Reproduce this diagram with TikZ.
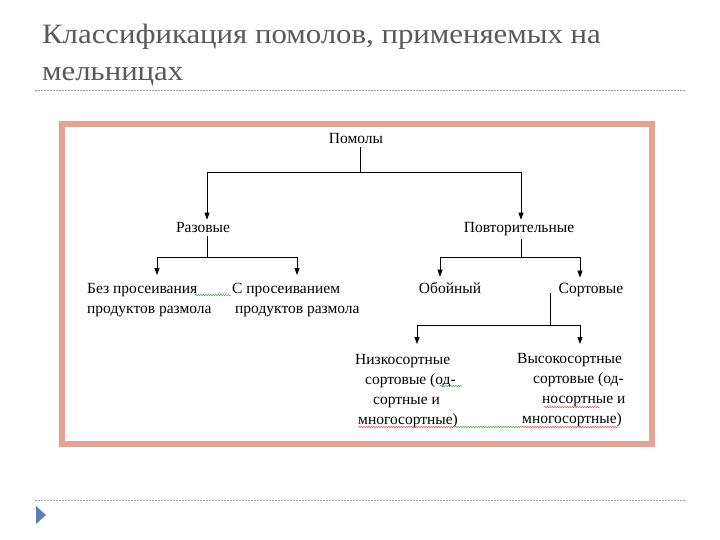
\documentclass[tikz,border=0pt]{standalone}
\usepackage{fontspec}
\setmainfont{Liberation Serif}
\newfontfamily\titlefont[FakeStretch=1.1]{Liberation Serif}
\usetikzlibrary{arrows.meta,decorations.pathmorphing,calc}
\definecolor{titlegray}{HTML}{595959}
\definecolor{framepink}{HTML}{E4A394}
\definecolor{dashgray}{HTML}{A0A0A0}
\definecolor{bulletblue}{HTML}{5B7FB5}
\definecolor{squigred}{HTML}{D9534F}
\definecolor{squiggreen}{HTML}{4CA64C}
\begin{document}
\begin{tikzpicture}[x=1pt,y=-1pt,
  lbl/.style={inner xsep=0pt, inner ysep=3pt, font=\fontsize{15.5}{20}\selectfont},
  blk/.style={lbl, align=left, anchor=north west},
  conn/.style={line width=0.8pt, black},
  arr/.style={conn, -{Triangle[length=7pt,width=5pt]}},
  sepline/.style={dashgray, line width=0.6pt, dash pattern=on 2pt off 1pt},
  wavy/.style={decorate, decoration={snake, amplitude=0.7pt, segment length=2.5pt}, line width=0.5pt},
]
\useasboundingbox (0,0) rectangle (720,540);
\fill[white] (0,0) rectangle (720,540);

% title (base anchor = baseline of the last line)
\node[anchor=base west, inner sep=0pt, text=titlegray, align=left,
      font=\titlefont\fontsize{28}{37}\selectfont] (title) at (42,81)
  {Классификация помолов, применяемых на\\мельницах};

\draw[sepline] (35,90) -- (686,90);
\draw[sepline] (35,500) -- (686,500);
\fill[bulletblue] (36,506) -- (46,515) -- (36,524) -- cycle;

% frame
\draw[framepink, line width=6pt] (62,124) rectangle (652,444);

% nodes
\node[lbl, anchor=base] (pomoly) at (356,144) {Помолы};
\node[lbl, anchor=base] (raz) at (203,233) {Разовые};
\node[lbl, anchor=base] (pov) at (519,233) {Повторительные};
\node[blk] (bez) at (87,280) {Без просеивания\\продуктов размола};
\node[blk] (spros) at (232,280) {С просеиванием\\\hspace*{3pt}продуктов размола};
\node[lbl, anchor=base] (oboi) at (450,293) {Обойный};
\node[lbl, anchor=base] (sort) at (591,293) {Сортовые};
\node[blk] (nizko) at (355,351) {Низкосортные\\\hspace*{10pt}сортовые (од-\\\hspace*{18pt}сортные и\\\hspace*{3pt}многосортные)};
\node[blk] (vysoko) at (517,350) {Высокосортные\\\hspace*{16pt}сортовые (од-\\\hspace*{25pt}носортные и\\\hspace*{5pt}многосортные)};

% connectors
\coordinate (j1) at (360,172);
\coordinate (l1) at (207,172);
\coordinate (r1) at (521,172);
\draw[conn] (pomoly.south -| j1) -- (j1);
\draw[conn] (l1) -- (r1);
\draw[arr] (l1) -- (raz.north -| l1);
\draw[arr] (r1) -- (pov.north -| r1);

\coordinate (j2) at (207,257);
\coordinate (l2) at (157,257);
\coordinate (r2) at (297,257);
\draw[conn] (raz.south -| j2) -- (j2);
\draw[conn] (l2) -- (r2);
\draw[arr, shorten >=5pt] (l2) -- (bez.north -| l2);
\draw[arr, shorten >=5pt] (r2) -- (spros.north -| r2);

\coordinate (j3) at (521,257);
\coordinate (l3) at (440,257);
\coordinate (r3) at (580,257);
\draw[conn] (pov.south -| j3) -- (j3);
\draw[conn] (l3) -- (r3);
\draw[arr, shorten >=2pt] (l3) -- (oboi.north -| l3);
\draw[arr, shorten >=2pt] (r3) -- (sort.north -| r3);

\coordinate (j4) at (550,325);
\coordinate (l4) at (417,325);
\coordinate (r4) at (580,325);
\draw[conn] (sort.base west -| j4) -- (j4);
\draw[conn] (l4) -- (r4);
\draw[arr, shorten >=7pt] (l4) -- (nizko.north -| l4);
\draw[arr, shorten >=6pt] (r4) -- (vysoko.north -| r4);

% spell-check squiggles
\draw[squiggreen, wavy] (195,295) -- (231,295);
\draw[squiggreen, wavy] (440,386) -- (462,386);
\draw[squigred, wavy] (358,427) -- (455,427);
\draw[squiggreen, wavy] (455,427) -- (522,427);
\draw[squigred, wavy] (544,407) -- (600,407);
\draw[squigred, wavy] (522,427) -- (618,427);
\end{tikzpicture}
\end{document}
